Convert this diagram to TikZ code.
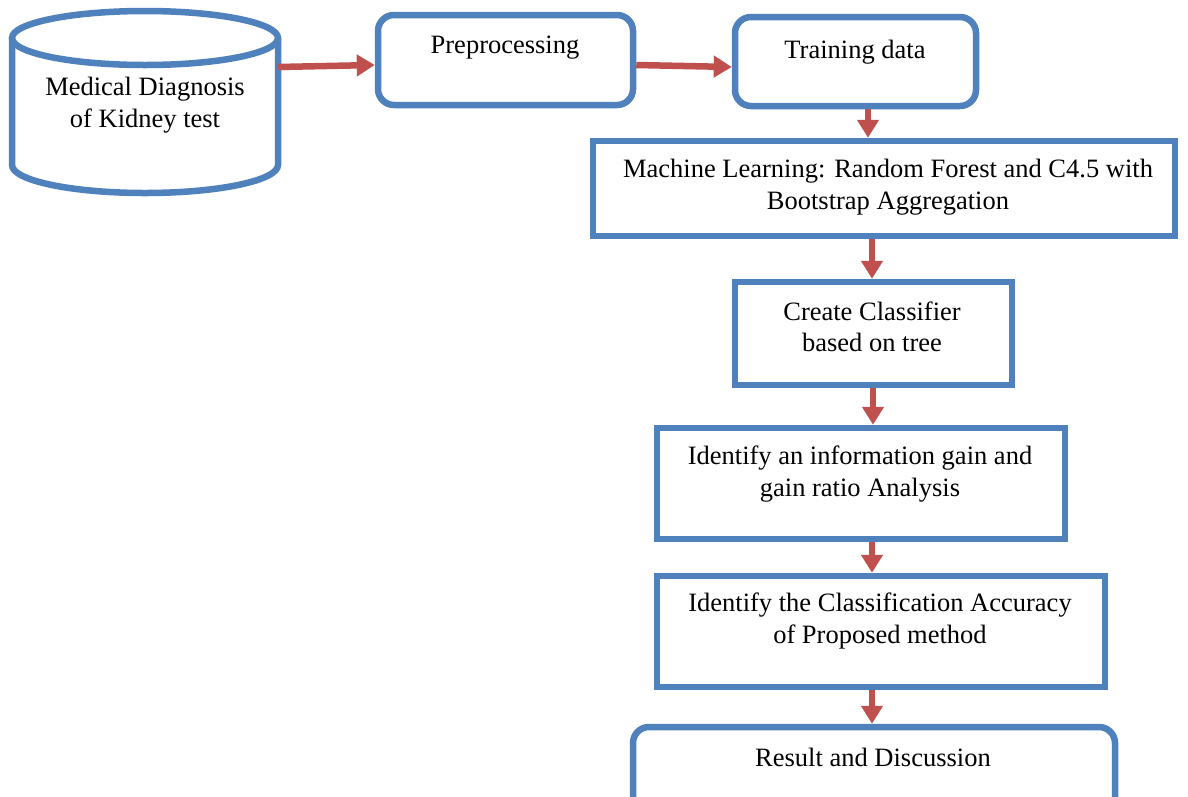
\documentclass[tikz,border=0pt]{standalone}
\usepackage{fontspec}
\setmainfont{Liberation Serif}
\usetikzlibrary{arrows.meta}
\definecolor{boxblue}{HTML}{4F81BD}
\definecolor{arrred}{HTML}{C0504D}
\begin{document}
\begin{tikzpicture}[x=1pt,y=-1pt,
  box/.style={draw=boxblue,line width=6.5pt,inner sep=0pt,fill=white},
  rbox/.style={box,rounded corners=16pt},
  txt/.style={font=\fontsize{26.5}{31.5}\selectfont,align=center,inner sep=0pt},
  arr/.style={draw=arrred,line width=6.5pt,-{Triangle[width=21pt,length=18pt]}}]
\clip (0,0) rectangle (1188,796);
\fill[white] (0,0) rectangle (1188,796);
% cylinder
\node[minimum width=266pt,minimum height=185pt,inner sep=0pt] (db) at (145,101) {};
\draw[boxblue,line width=6.5pt] (145,38) ellipse[x radius=133pt,y radius=27pt];
\draw[boxblue,line width=6.5pt] (12,38) -- (12,165) arc[start angle=180,end angle=360,x radius=133pt,y radius=28pt] -- (278,38);
\node[txt] (dbt) at (145,105) {Medical Diagnosis\\of Kidney test};
% boxes
\node[rbox,minimum width=255pt,minimum height=90pt] (pre) at (505.5,60) {};
\node[txt] (pret) at (505,48) {Preprocessing};
\node[rbox,minimum width=241pt,minimum height=89pt] (train) at (855.5,61.5) {};
\node[txt] (traint) at (855,52) {Training data};
\node[box,minimum width=582pt,minimum height=95pt] (ml) at (884,188.5) {};
\node[txt] (mlt) at (888,187) {Machine Learning: Random Forest and C4.5 with\\Bootstrap Aggregation};
\node[box,minimum width=277pt,minimum height=103pt] (cc) at (873.5,333.5) {};
\node[txt] (cct) at (872,327) {Create Classifier\\based on tree};
\node[box,minimum width=408pt,minimum height=111pt] (ig) at (861,483.5) {};
\node[txt] (igt) at (860,474) {Identify an information gain and\\gain ratio Analysis};
\node[box,minimum width=448pt,minimum height=111pt] (ca) at (881,631.5) {};
\node[txt] (cat) at (880,621) {Identify the Classification Accuracy\\of Proposed method};
\node[rbox,minimum width=482pt,minimum height=90pt] (res) at (874,772) {};
\node[txt] (rest) at (873,757) {Result and Discussion};
% connectors
\coordinate (dbout) at (278,67);
\coordinate (c1) at (868,0);
\coordinate (c2) at (872,0);
\coordinate (c3) at (873,0);
\draw[arr] (dbout) -- ([yshift=-5pt]pre.west);
\draw[arr] ([yshift=-5pt]pre.east) -- ([yshift=-5.5pt]train.west);
\draw[arr] (train.south -| c1) -- (ml.north -| c1);
\draw[arr] (ml.south -| c2) -- (cc.north -| c2);
\draw[arr] (cc.south -| c3) -- (ig.north -| c3);
\draw[arr] (ig.south -| c2) -- (ca.north -| c2);
\draw[arr] (ca.south -| c2) -- (res.north -| c2);
\end{tikzpicture}
\end{document}
